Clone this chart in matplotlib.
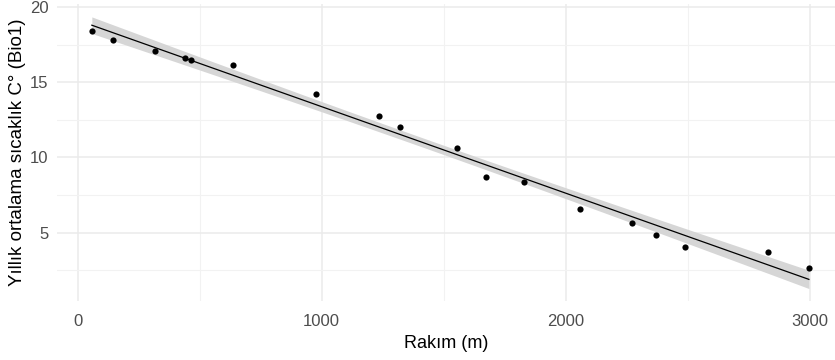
import numpy as np
import matplotlib
matplotlib.use('Agg')
import matplotlib.pyplot as plt
from matplotlib.ticker import MultipleLocator

plt.rcParams['font.family'] = ['Liberation Sans', 'DejaVu Sans']

# altitude (m) and annual mean temperature (Bio1)
rakim = [58, 145, 317, 440, 465, 637, 976, 1236, 1322, 1554, 1672, 1830,
         2059, 2270, 2369, 2488, 2828, 2997]
bio1 = [18.43, 17.83, 17.07, 16.62, 16.5, 16.17, 14.19, 12.75, 12.01, 10.63,
        8.7, 8.37, 6.59, 5.63, 4.81, 4.01, 3.70, 2.63]

x = np.array(rakim, dtype=float)
y = np.array(bio1, dtype=float)

# linear fit with 95% confidence band
n = len(x)
b1, b0 = np.polyfit(x, y, 1)
resid = y - (b0 + b1 * x)
s = np.sqrt(np.sum(resid ** 2) / (n - 2))
t_crit = 2.120  # t(0.975, df=16)
xs = np.linspace(x.min(), x.max(), 200)
ys = b0 + b1 * xs
se = s * np.sqrt(1.0 / n + (xs - x.mean()) ** 2 / np.sum((x - x.mean()) ** 2))

fig = plt.figure(figsize=(8.35, 3.6), dpi=100)
ax = fig.add_axes([56.7 / 835, 59 / 360, (835 - 56.7) / 835, 297 / 360])

ax.fill_between(xs, ys - t_crit * se, ys + t_crit * se, color='#d6d6d6', lw=0, zorder=2)
ax.plot(xs, ys, color='black', lw=0.9, zorder=3)
ax.scatter(x, y, s=20, color='black', zorder=4, linewidths=0)

ax.set_xlim(-86, 3104)
ax.set_ylim(0.45, 20.2)
ax.xaxis.set_major_locator(MultipleLocator(1000))
ax.xaxis.set_minor_locator(MultipleLocator(500))
ax.yaxis.set_major_locator(MultipleLocator(5))
ax.yaxis.set_minor_locator(MultipleLocator(2.5))
ax.set_yticks([5, 10, 15, 20])

ax.grid(which='major', color='#ebebeb', lw=1.1, zorder=0)
ax.grid(which='minor', color='#f2f2f2', lw=0.8, zorder=0)
ax.set_axisbelow(True)
for sp in ax.spines.values():
    sp.set_visible(False)
ax.tick_params(which='both', length=0, labelsize=12, labelcolor='#4d4d4d')
ax.tick_params(axis='x', pad=9)
ax.tick_params(axis='y', pad=6)
for lab in ax.get_xticklabels() + ax.get_yticklabels():
    lab.set_family(['Liberation Sans Narrow', 'Liberation Sans', 'DejaVu Sans'])

ax.set_xlabel('Rakım (m)', fontsize=13, color='black', labelpad=5)
ax.set_ylabel('Yıllık ortalama sıcaklık C° (Bio1)', fontsize=13.5, color='black', labelpad=3)

fig.savefig('out.png', dpi=100)
